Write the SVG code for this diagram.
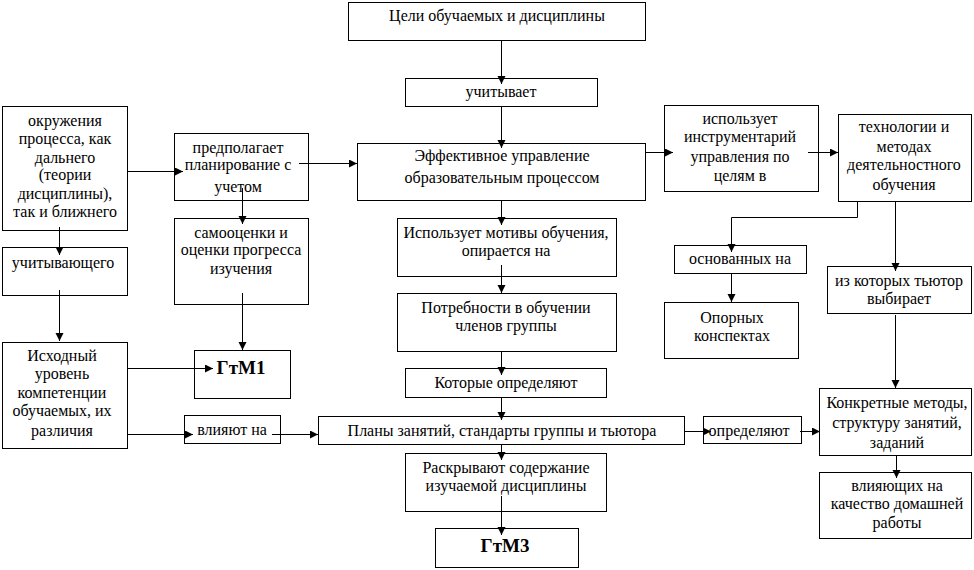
<svg xmlns="http://www.w3.org/2000/svg" width="974" height="570" viewBox="0 0 974 570">
<defs>
<marker id="ah" markerUnits="userSpaceOnUse" markerWidth="10" markerHeight="10" refX="8" refY="4" orient="auto">
<path d="M0,0 L8,4 L0,8 z" fill="#000"/>
</marker>
</defs>
<style>
rect{fill:#fff;stroke:#000;stroke-width:1}
text{font-family:'Times New Roman','Liberation Serif','DejaVu Serif',serif;font-size:16px;fill:#000;text-anchor:middle}
text.b{font-weight:bold;font-size:19px}
#conn line,#conn polyline{stroke:#000;stroke-width:1;fill:none}
#conn .a{marker-end:url(#ah)}
</style>
<rect x="0" y="0" width="974" height="570" style="stroke:none"/>
<g font-family="Times New Roman, Liberation Serif, DejaVu Serif, serif">
<g id="n-celi"><rect x="348.5" y="2.5" width="297" height="38"/><text x="497" y="21">Цели обучаемых и дисциплины</text></g>
<g id="n-uchit"><rect x="405.5" y="78.5" width="192" height="28"/><text x="501" y="97">учитывает</text></g>
<g id="n-effekt"><rect x="357.5" y="143.5" width="288" height="57"/><text x="502" y="161">Эффективное управление</text><text x="502" y="183">образовательным процессом</text></g>
<g id="n-motiv"><rect x="397.5" y="218.5" width="219" height="58"/><text x="506" y="238">Использует мотивы обучения,</text><text x="506" y="256">опирается на</text></g>
<g id="n-potreb"><rect x="397.5" y="293.5" width="219" height="58"/><text x="506" y="313">Потребности в обучении</text><text x="506" y="331">членов группы</text></g>
<g id="n-kotorye"><rect x="405.5" y="368.5" width="201" height="29"/><text x="506" y="388">Которые определяют</text></g>
<g id="n-plany"><rect x="318.5" y="416.5" width="366" height="28"/><text x="502" y="436">Планы занятий, стандарты группы и тьютора</text></g>
<g id="n-raskr"><rect x="405.5" y="453.5" width="201" height="58"/><text x="506" y="473">Раскрывают содержание</text><text x="506" y="491">изучаемой дисциплины</text></g>
<g id="n-gtm3"><rect x="435.5" y="528.5" width="143" height="39"/><text class="b" x="505" y="552">ГтМ3</text></g>
<g id="n-okruzh"><rect x="2.5" y="106.5" width="125" height="124"/><text x="65" y="126">окружения</text><text x="65" y="144">процесса, как</text><text x="65" y="163">дальнего</text><text x="65" y="180">(теории</text><text x="65" y="199">дисциплины),</text><text x="65" y="217">так и ближнего</text></g>
<g id="n-uchityv"><rect x="2.5" y="247.5" width="125" height="48"/><text x="63" y="268">учитывающего</text></g>
<g id="n-ishod"><rect x="2.5" y="342.5" width="125" height="106"/><text x="62" y="361">Исходный</text><text x="62" y="379">уровень</text><text x="62" y="398">компетенции</text><text x="62" y="416">обучаемых, их</text><text x="62" y="436">различия</text></g>
<g id="n-predpol"><rect x="174.5" y="133.5" width="134" height="67"/><text x="238" y="153">предполагает</text><text x="238" y="170">планирование с</text><text x="238" y="192">учетом</text></g>
<g id="n-samoots"><rect x="174.5" y="218.5" width="134" height="86"/><text x="241" y="238">самооценки и</text><text x="241" y="255">оценки прогресса</text><text x="241" y="274">изучения</text></g>
<g id="n-gtm1"><rect x="194.5" y="350.5" width="96" height="48"/><text class="b" x="241" y="374">ГтМ1</text></g>
<g id="n-vliyut"><rect x="184.5" y="415.5" width="96" height="28"/><text x="232" y="435">влияют на</text></g>
<g id="n-ispolz"><rect x="664.5" y="105.5" width="154" height="86"/><text x="740" y="124">использует</text><text x="740" y="142">инструментарий</text><text x="740" y="162">управления по</text><text x="740" y="181">целям в</text></g>
<g id="n-tehn"><rect x="838.5" y="114.5" width="133" height="87"/><text x="904" y="132">технологии и</text><text x="904" y="152">методах</text><text x="904" y="170">деятельностного</text><text x="904" y="190">обучения</text></g>
<g id="n-osnov"><rect x="674.5" y="245.5" width="132" height="28"/><text x="740" y="264">основанных на</text></g>
<g id="n-opor"><rect x="664.5" y="302.5" width="134" height="56"/><text x="732" y="323">Опорных</text><text x="732" y="341">конспектах</text></g>
<g id="n-izkot"><rect x="827.5" y="266.5" width="144" height="47"/><text x="899" y="286">из которых тьютор</text><text x="899" y="304">выбирает</text></g>
<g id="n-opred"><rect x="703.5" y="416.5" width="98" height="27"/><text x="749" y="436">определяют</text></g>
<g id="n-konkr"><rect x="819.5" y="388.5" width="152" height="67"/><text x="897" y="408">Конкретные методы,</text><text x="897" y="428">структуру занятий,</text><text x="897" y="448">заданий</text></g>
<g id="n-vliyay"><rect x="819.5" y="472.5" width="152" height="66"/><text x="897" y="491">влияющих на</text><text x="897" y="509">качество домашней</text><text x="897" y="528">работы</text></g>
</g>
<g id="conn">
<line class="a" x1="501.5" y1="40" x2="501.5" y2="84"/>
<line class="a" x1="501.5" y1="106" x2="501.5" y2="148"/>
<line class="a" x1="501.5" y1="200" x2="501.5" y2="225"/>
<line class="a" x1="501.5" y1="265" x2="501.5" y2="293"/>
<line class="a" x1="501.5" y1="351" x2="501.5" y2="375"/>
<line class="a" x1="501.5" y1="397" x2="501.5" y2="420"/>
<line class="a" x1="501.5" y1="444" x2="501.5" y2="460"/>
<line class="a" x1="501.5" y1="496" x2="501.5" y2="535"/>
<line class="a" x1="299" y1="163.5" x2="357" y2="163.5"/>
<line class="a" x1="128" y1="171.5" x2="183" y2="171.5"/>
<line class="a" x1="59.5" y1="227" x2="59.5" y2="255"/>
<line class="a" x1="59.5" y1="290" x2="59.5" y2="341"/>
<line class="a" x1="242.5" y1="188" x2="242.5" y2="224"/>
<line class="a" x1="242.5" y1="293" x2="242.5" y2="350"/>
<line class="a" x1="128" y1="368.5" x2="213" y2="368.5"/>
<line class="a" x1="128" y1="434.5" x2="193" y2="434.5"/>
<line class="a" x1="272" y1="434.5" x2="318" y2="434.5"/>
<line class="a" x1="645" y1="152.5" x2="673" y2="152.5"/>
<line class="a" x1="808" y1="152.5" x2="838" y2="152.5"/>
<polyline class="a" points="857.5,201 857.5,217.5 731.5,217.5 731.5,252"/>
<line class="a" x1="731.5" y1="273" x2="731.5" y2="302"/>
<line class="a" x1="895.5" y1="201" x2="895.5" y2="271"/>
<line class="a" x1="895.5" y1="315" x2="895.5" y2="388"/>
<line class="a" x1="685" y1="431.5" x2="711" y2="431.5"/>
<line class="a" x1="800" y1="431.5" x2="820" y2="431.5"/>
<line class="a" x1="896.5" y1="456" x2="896.5" y2="478"/>
</g>
</svg>
